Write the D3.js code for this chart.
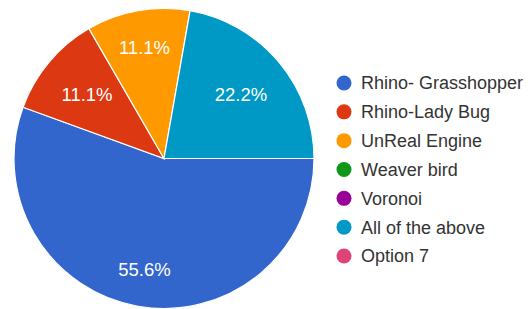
<!DOCTYPE html>
<html>
<head>
<meta charset="utf-8">
<script src="https://cdn.jsdelivr.net/npm/d3@7/dist/d3.min.js"></script>
<style>
html,body{margin:0;padding:0;background:#fff;}
svg{display:block;}
</style>
</head>
<body>
<svg id="chart" width="528" height="309"></svg>
<script>
const categories = ["Rhino- Grasshopper","Rhino-Lady Bug","UnReal Engine","Weaver bird","Voronoi","All of the above","Option 7"];
const counts = [5, 1, 1, 0, 0, 2, 0];
const colors = ["#3366cc","#dc3912","#ff9900","#109618","#990099","#0099c6","#dd4477"];

const svg = d3.select("#chart");
const cx = 164, cy = 158.5, R = 150;
const total = d3.sum(counts);

const pie = d3.pie().sort(null).value(d => d.v)
  .startAngle(Math.PI/2).endAngle(Math.PI/2 + 2*Math.PI);
const data = categories.map((c,i) => ({c, v: counts[i], col: colors[i]}));
const arcs = pie(data).filter(a => a.data.v > 0);
const arc = d3.arc().innerRadius(0).outerRadius(R);

const g = svg.append("g").attr("transform", `translate(${cx},${cy})`);
g.selectAll("path").data(arcs).join("path")
  .attr("d", arc)
  .attr("fill", d => d.data.col)
  .attr("stroke", "#fff")
  .attr("stroke-width", 1.2);

const fmt = v => (v/total*100).toFixed(1) + "%";
g.selectAll("text").data(arcs).join("text")
  .attr("transform", d => {
    const m = (d.startAngle + d.endAngle)/2;
    const r = 78 + 35*Math.abs(Math.cos(m));
    return `translate(${Math.sin(m)*r},${-Math.cos(m)*r})`;
  })
  .attr("text-anchor","middle")
  .attr("dy","0.36em")
  .attr("font-family","'Liberation Sans', Arial, sans-serif")
  .attr("font-size", 18.5)
  .attr("fill","#fff")
  .text(d => fmt(d.data.v));

const legend = svg.append("g");
const ly = d3.scalePoint().domain(categories).range([83, 256]);
const rows = legend.selectAll("g").data(data).join("g")
  .attr("transform", d => `translate(344,${ly(d.c)})`);
rows.append("circle").attr("r", 7.5).attr("fill", d => d.col);
rows.append("text")
  .attr("x", 17)
  .attr("dy","0.36em")
  .attr("font-family","'Liberation Sans', Arial, sans-serif")
  .attr("font-size", 18)
  .attr("fill","#333")
  .text(d => d.c);
</script>
</body>
</html>
